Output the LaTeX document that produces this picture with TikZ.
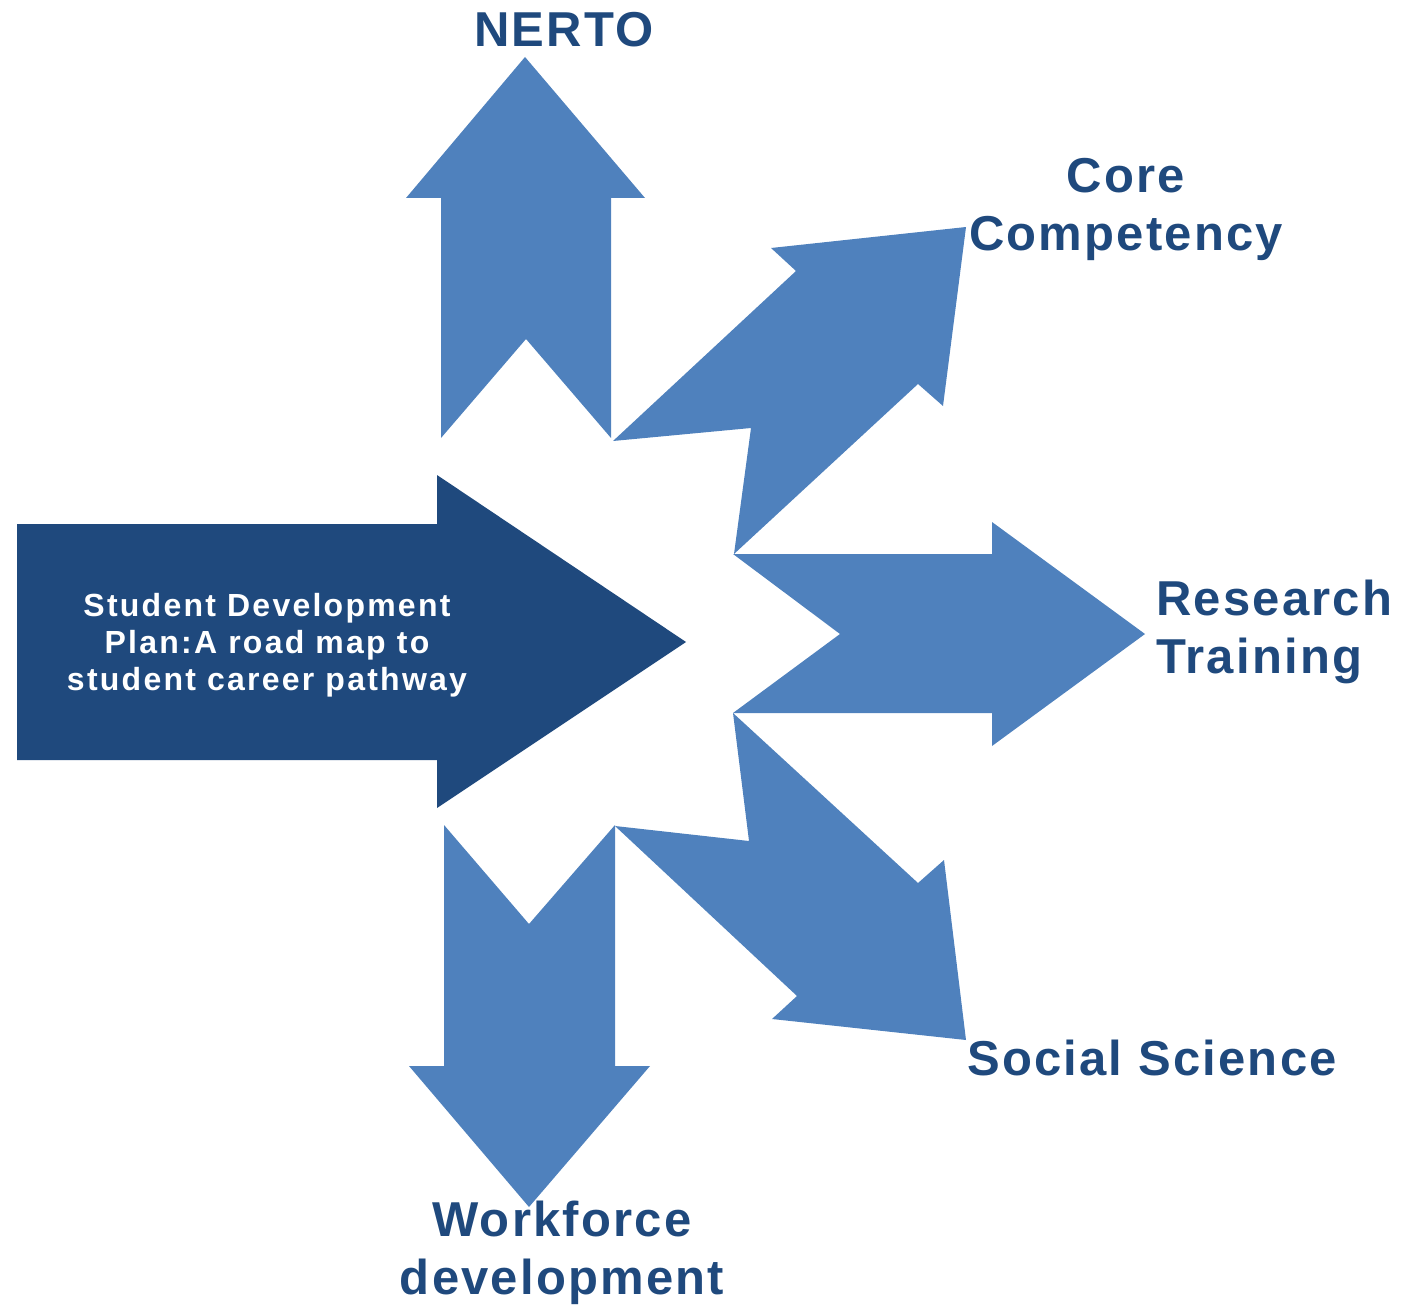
\documentclass[tikz,border=0pt]{standalone}
\usepackage{fontspec}
\setmainfont{Liberation Sans}
\newfontfamily\bigfont[LetterSpace=4.5]{Liberation Sans}
\newfontfamily\smallfont[LetterSpace=7]{Liberation Sans}
\definecolor{lightblue}{HTML}{4F81BD}
\definecolor{darkblue}{HTML}{1F497D}
\begin{document}
\begin{tikzpicture}[x=1bp,y=-1bp,
  branch/.style={fill=lightblue,draw=none},
  mainarrow/.style={fill=darkblue,draw=none},
  biglabel/.style={inner sep=0pt,text=darkblue,font=\bigfont\bfseries\fontsize{49bp}{58bp}\selectfont},
  smalllabel/.style={inner sep=0pt,text=white,align=center,font=\smallfont\bfseries\fontsize{32bp}{37bp}\selectfont}]
\useasboundingbox (0,0) rectangle (1401,1307);
% main dark arrow
\path[mainarrow] (17,524) -- (437,524) -- (437,475) -- (686,642) -- (437,808) -- (437,760) -- (17,760) -- cycle;
% NERTO (up)
\path[branch] (441,438) -- (441,198) -- (406,198) -- (525,57) -- (645,198) -- (611,198) -- (611,438) -- (526,339) -- cycle;
% Core competency (up-right)
\path[branch] (613,441) -- (796,271) -- (771,248) -- (966,227) -- (943,406) -- (918,384) -- (734,554) -- (751,428) -- cycle;
% Research training (right)
\path[branch] (733,554) -- (992,554) -- (992,522) -- (1145,634) -- (992,746) -- (992,713) -- (733,713) -- (840,634) -- cycle;
% Social science (down-right)
\path[branch] (733,713) -- (918,883) -- (944,860) -- (966,1040) -- (772,1019) -- (797,996) -- (615,826) -- (749,841) -- cycle;
% Workforce (down)
\path[branch] (444,825) -- (529,924) -- (615,825) -- (615,1066) -- (650,1066) -- (529,1207) -- (409,1066) -- (444,1066) -- cycle;
% labels (base anchor of a multi-line node = baseline of its last line)
\node[biglabel,anchor=base] (nerto) at (564,47) {NERTO};
\node[biglabel,anchor=base,align=center] (core) at (1126,251) {Core\\Competency};
\node[biglabel,anchor=base west,align=left] (research) at (1156,673) {Research\\Training};
\node[biglabel,anchor=base west] (social) at (967,1075) {Social Science};
\node[biglabel,anchor=base,align=center] (workforce) at (562,1294) {Workforce\\development};
\node[smalllabel,anchor=base] (sdp) at (267,690) {Student Development\\Plan:A road map to\\student career pathway};
\end{tikzpicture}
\end{document}
